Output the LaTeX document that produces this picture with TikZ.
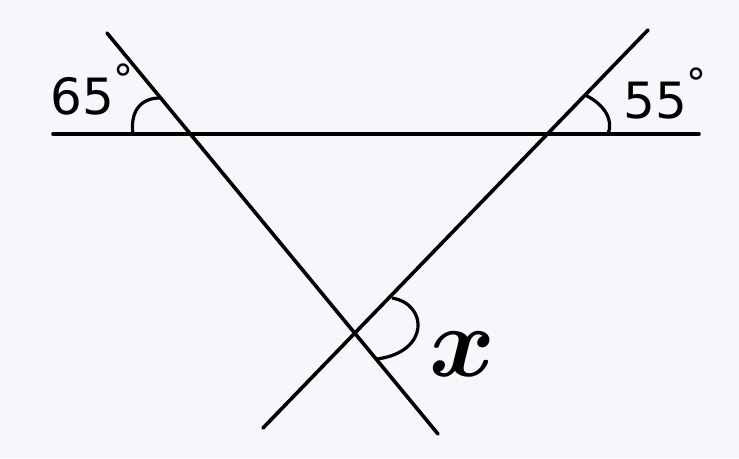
\documentclass[tikz,border=0pt]{standalone}
\usepackage{amsmath,amssymb,graphicx}
\usepackage{fontspec}
\setmainfont{DejaVu Sans}
\definecolor{paper}{RGB}{245,247,251}
\tikzset{
  mark line/.style={line width=3.6pt,line cap=round},
  angle mark/.style={line width=3.2pt},
  deg label/.style={anchor=base west,inner sep=0pt,font=\fontsize{50}{50}\selectfont}
}
\newcommand{\degsign}{\raisebox{0.42em}{\fontsize{40}{40}\selectfont °}}
\begin{document}
\begin{tikzpicture}[x=1pt,y=-1pt]
		\fill[paper] (0,0) rectangle (739,458);
		% the three lines
		\coordinate (H1) at (53,134);
		\coordinate (H2) at (699,134);
		\coordinate (L1) at (107,33);
		\coordinate (L2) at (438,434);
		\coordinate (R1) at (648,30);
		\coordinate (R2) at (263,428);
		\draw[mark line] (H1)--(H2);
		\draw[mark line] (L1)--(L2);
		\draw[mark line] (R1)--(R2);
		% angle marks
		\draw[angle mark] (133,134) .. controls (130,112) and (140,98) .. (160,98);
		\draw[angle mark] (585,95) .. controls (604,104) and (614,120) .. (608,134);
		\draw[angle mark] (392,298) .. controls (428,304) and (430,352) .. (377,359);
		% labels
		\node[deg label] (a65) at (50,114) {65\degsign};
		\node[deg label] (a55) at (623,118) {55\degsign};
		\node (ax) at (462,354) {\scalebox{10}{$\boldsymbol{x}$}};
	\end{tikzpicture}
\end{document}
